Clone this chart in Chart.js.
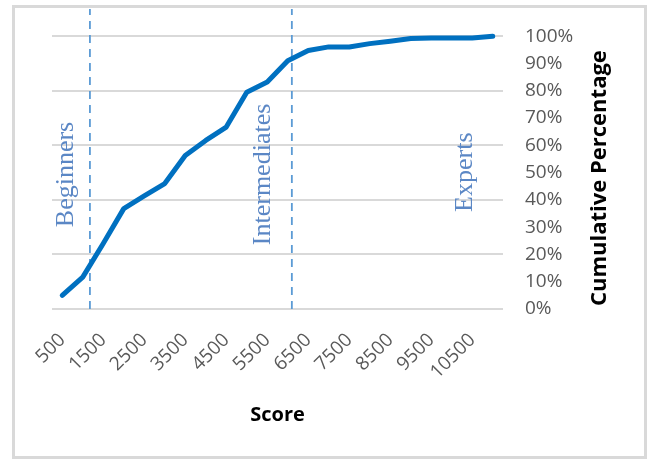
<!DOCTYPE html>
<html><head><meta charset="utf-8">
<script src="https://cdn.jsdelivr.net/npm/chart.js@4.4.0/dist/chart.umd.min.js"></script>
<style>html,body{margin:0;padding:0;background:#fff;} #wrap{width:651px;height:460px;position:relative;}</style>
</head><body><div id="wrap"><canvas id="c" width="651" height="460"></canvas></div>
<script>
// ---- data ----
const scores = [500,1000,1500,2000,2500,3000,3500,4000,4500,5000,5500,6000,6500,7000,7500,8000,8500,9000,9500,10000,10500,11000];
const cumulativePct = [5,11.7,24,36.8,41.5,46,56.3,61.8,66.7,79.5,83.2,91,94.8,96.1,96.1,97.3,98.2,99.2,99.4,99.4,99.4,100];
const xTickValues = [500,1500,2500,3500,4500,5500,6500,7500,8500,9500,10500];
const yTickValues = [0,10,20,30,40,50,60,70,80,90,100];
const zoneNames = ['Beginners','Intermediates','Experts'];
const zoneNameScore = [774,5556,10483];
const zoneNamePct = [30,23.4,35.6];
const zoneBoundaries = [1175,6100];
const xTitle = 'Score';
const yTitle = 'Cumulative Percentage';

const mainData = scores.map((s,i)=>({x:s,y:cumulativePct[i]}));
const dashColor = '#5b9bd5';
const boundarySets = zoneBoundaries.map(b=>({
  data:[{x:b,y:0},{x:b,y:110}],
  borderColor:dashColor, borderWidth:1.8, borderDash:[8,6],
  pointRadius:0, fill:false, order:2
}));
const tickFont = '"Open Sans", Lato, sans-serif';

const frame = {
  id:'frame',
  beforeDraw(chart){
    const c = chart.ctx;
    c.save();
    c.fillStyle='#fff'; c.fillRect(0,0,chart.width,chart.height);
    c.strokeStyle='#d9d9d9'; c.lineWidth=3;
    c.strokeRect(13.5,6.5,632,451);
    c.restore();
  }
};
const annotations = {
  id:'annot',
  afterDatasetsDraw(chart){
    const c = chart.ctx, xs = chart.scales.x, ys = chart.scales.y;
    c.save();
    c.fillStyle='#5b87c5';
    c.font='26px "Liberation Serif", "Times New Roman", serif';
    c.textAlign='left'; c.textBaseline='alphabetic';
    zoneNames.forEach((n,i)=>{
      c.save();
      c.translate(xs.getPixelForValue(zoneNameScore[i]), ys.getPixelForValue(zoneNamePct[i]));
      c.rotate(-Math.PI/2);
      c.fillText(n,0,0);
      c.restore();
    });
    // right axis title, reading bottom-to-top
    c.fillStyle='#000';
    c.font='bold 22px "Open Sans", Lato, sans-serif';
    c.textAlign='center'; c.textBaseline='middle';
    c.translate(600, ys.getPixelForValue(48));
    c.rotate(-Math.PI/2);
    c.fillText(yTitle,0,0);
    c.restore();
  }
};

new Chart(document.getElementById('c'),{
  type:'line',
  data:{datasets:[
    {data:mainData, borderColor:'#0070c0', borderWidth:5, pointRadius:0, tension:0,
     borderCapStyle:'round', borderJoinStyle:'round', fill:false, order:1},
    ...boundarySets
  ]},
  options:{
    responsive:false, animation:false,
    layout:{padding:{left:52,right:0,top:9,bottom:0}},
    plugins:{legend:{display:false},tooltip:{enabled:false}},
    scales:{
      x:{type:'linear', min:250, max:11250,
        afterBuildTicks(s){ s.ticks = xTickValues.map(v=>({value:v})); },
        afterFit(s){ s.paddingLeft=0; s.paddingRight=0; s.paddingTop=0; s.paddingBottom=0; s.height=151; },
        grid:{display:false, drawTicks:false},
        border:{display:false},
        ticks:{minRotation:45,maxRotation:45,autoSkip:false,padding:20,color:'#595959',
          font:{family:tickFont,size:19}, callback:v=>String(v)},
        title:{display:true,text:xTitle,color:'#000',font:{family:tickFont,size:20,weight:'bold'},padding:{top:0,bottom:33}}
      },
      y:{type:'linear', position:'right', min:0, max:110,
        afterBuildTicks(s){ s.ticks = yTickValues.map(v=>({value:v})); },
        afterFit(s){ s.paddingLeft=0; s.paddingRight=0; s.paddingTop=0; s.paddingBottom=0; s.width=148; },
        grid:{drawTicks:false, lineWidth:2,
          color:ctx=> (ctx.tick && ctx.tick.value%20===0) ? '#d9d9d9' : 'rgba(0,0,0,0)'},
        border:{display:false},
        ticks:{padding:22,color:'#595959',font:{family:tickFont,size:19},
          callback:v=>v+'%'}
      }
    }
  },
  plugins:[frame,annotations]
});
</script></body></html>
